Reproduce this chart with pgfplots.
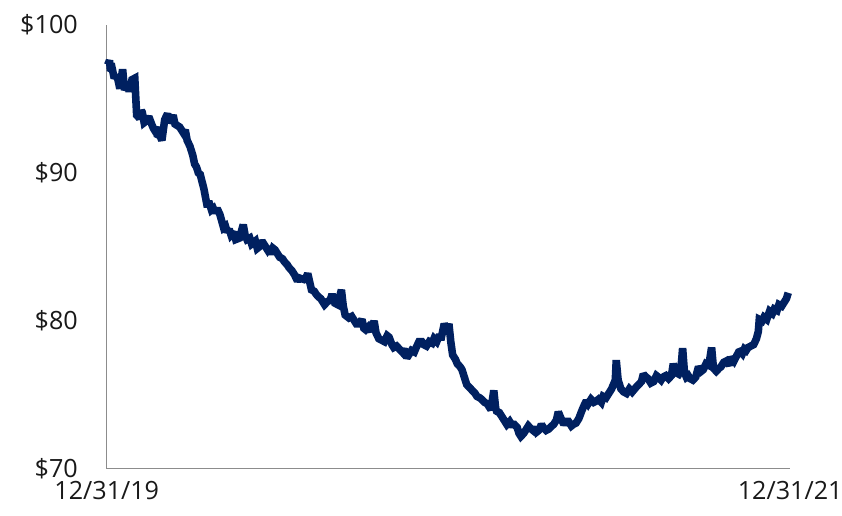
\documentclass[border=0pt]{standalone}
\usepackage{pgfplots}
\pgfplotsset{compat=1.18}
\usepackage{fontspec}
\setmainfont{Open Sans}

\definecolor{navy}{HTML}{002060}
\definecolor{axisgray}{HTML}{8C8C8C}

\begin{document}
\begin{tikzpicture}
\begin{axis}[
    scale only axis,
    width=342.5pt, height=222.5pt,
    xmin=0, xmax=731,
    ymin=70, ymax=100,
    axis x line*=bottom, axis y line*=left,
    axis line style={axisgray, line width=0.6pt},
    xtick={0,731}, xticklabels={12/31/19,12/31/21},
    ytick={70,80,90,100}, yticklabels={\$70,\$80,\$90,\$100},
    major tick length=0pt,
    tick label style={font=\fontsize{12.6}{15}\selectfont, text=black!90},
    yticklabel shift=11pt,
    xticklabel shift=2.5pt,
    clip=false,
]
\addplot[navy, line width=3.8pt, line join=miter, miter limit=2] coordinates {
(1,97.3) (3,97.6) (4,96.9) (6,97.0) (8,96.4) (10,96.6) (12,96.3) (14,95.7) (17,97.0) (19,95.6)
(22,96.0) (24,95.5) (27,96.3) (30,96.4) (32,93.9) (35,93.7) (37,94.2) (38,94.1) (40,93.4) (42,93.5) (45,93.8)
(48,93.3) (50,93.0) (51,92.9) (53,93.1) (54,92.6) (57,92.5) (59,92.2) (62,93.6) (65,94.0) (67,93.4) (69,93.6) (71,93.9) (73,93.3)
(78,93.1) (80,92.9) (82,92.7) (84,92.9) (86,92.2) (89,91.8) (92,91.2) (94,90.6) (96,90.4) (98,90.0) (100,89.9) (102,89.4) (104,88.9) (107,87.9)
(110,87.9) (112,87.5) (114,87.6) (116,87.3) (118,87.6) (121,87.2) (125,86.3) (127,86.4) (129,86.0) (131,86.2) (133,85.8) (136,86.0) (138,85.5) (142,85.6)
(146,86.5) (148,85.8) (150,85.5) (153,85.6) (155,85.2) (159,85.4) (161,84.9) (163,85.0) (166,85.4) (168,85.2) (172,84.8) (174,85.0) (176,84.5)
(178,84.9) (180,84.8) (185,84.3) (188,84.2) (190,84.0) (193,83.8) (195,83.6) (198,83.4) (201,83.1) (204,82.7) (206,82.9) (211,82.8) (213,82.9) (215,83.2)
(219,82.1) (222,82.0) (224,81.8) (227,81.6) (229,81.5) (233,81.1) (236,81.3) (239,81.4) (241,81.8) (244,81.2) (247,81.1) (251,82.1) (253,81.0) (255,80.4)
(259,80.2) (262,80.3) (265,80.0) (267,79.8) (270,79.8) (273,80.1) (275,79.5) (277,79.4) (280,79.6) (283,79.3) (286,80.0) (288,79.2) (291,78.8)
(294,78.7) (297,78.6) (300,79.0) (302,78.9) (305,78.4) (307,78.2) (310,78.3) (313,78.1) (316,77.9) (318,78.1) (321,77.5) (323,77.7) (326,78.0) (329,77.9) (331,78.2) (334,78.6)
(337,78.6) (339,78.4) (342,78.3) (345,78.6) (348,78.5) (350,78.8) (353,78.6) (355,78.9) (358,78.9) (361,79.8) (364,79.4) (366,79.8) (368,78.6) (370,77.7) (373,77.4) (375,77.1)
(378,76.9) (380,76.7) (383,76.1) (385,75.7) (388,75.5) (391,75.3) (394,75.1) (396,74.9) (399,74.8) (401,74.7) (404,74.5) (407,74.4) (409,74.2) (411,74.0) (414,75.3)
(416,74.1) (417,73.9) (420,73.8) (423,73.5) (426,73.2) (428,73.0) (431,73.2) (433,73.0) (436,73.0) (439,72.8) (441,72.4) (443,72.2) (446,72.4) (448,72.6) (451,72.9) (454,72.7)
(456,72.6) (458,72.8) (460,72.5) (462,72.6) (465,73.0) (467,72.8) (470,72.6) (473,72.7) (476,72.9) (478,73.0) (481,73.3) (483,73.85) (486,73.4) (489,73.0) (491,73.2) (494,73.2)
(497,72.9) (499,73.0) (502,73.1) (505,73.4) (508,73.9) (510,74.2) (513,74.6) (515,74.4) (518,74.7) (521,74.5) (524,74.6) (526,74.7) (529,74.5) (531,74.9) (534,74.8) (537,75.1)
(540,75.4) (542,75.7) (544,76.0) (545,77.35) (547,76.0) (550,75.4) (553,75.2) (556,75.1) (559,75.4) (562,75.2) (566,75.5) (569,75.7) (572,75.9) (574,76.4) (577,76.2) (579,76.1)
(582,75.8) (585,75.9) (588,76.3) (590,76.2) (593,76.0) (595,76.2) (598,76.3) (601,76.1) (604,76.3) (606,77.1) (609,76.5) (612,76.4) (614,76.6) (616,78.15) (618,76.5) (620,76.2)
(622,76.3) (624,76.1) (627,76.0) (630,76.2) (633,76.9) (636,76.6) (638,76.7) (641,77.1) (644,77.0) (647,78.2) (649,76.8) (652,76.6) (655,76.8) (657,76.9) (660,77.2)
(663,77.3) (666,77.0) (668,77.55) (671,77.3) (673,77.55) (676,77.9) (678,77.95) (680,77.8) (682,78.1) (684,78.0) (686,78.2) (689,78.3) (692,78.4) (695,78.8)
(697,79.3) (698,80.1) (701,80.0) (703,80.25) (706,80.1) (709,80.65) (712,80.5) (714,80.8) (717,80.7) (719,81.1) (722,81.0) (725,81.3) (727,81.5) (729,81.9)
};
\end{axis}
\pgfresetboundingbox
\path (-53.5pt,-23.5pt) rectangle (368.5pt,235pt);
\end{tikzpicture}
\end{document}
